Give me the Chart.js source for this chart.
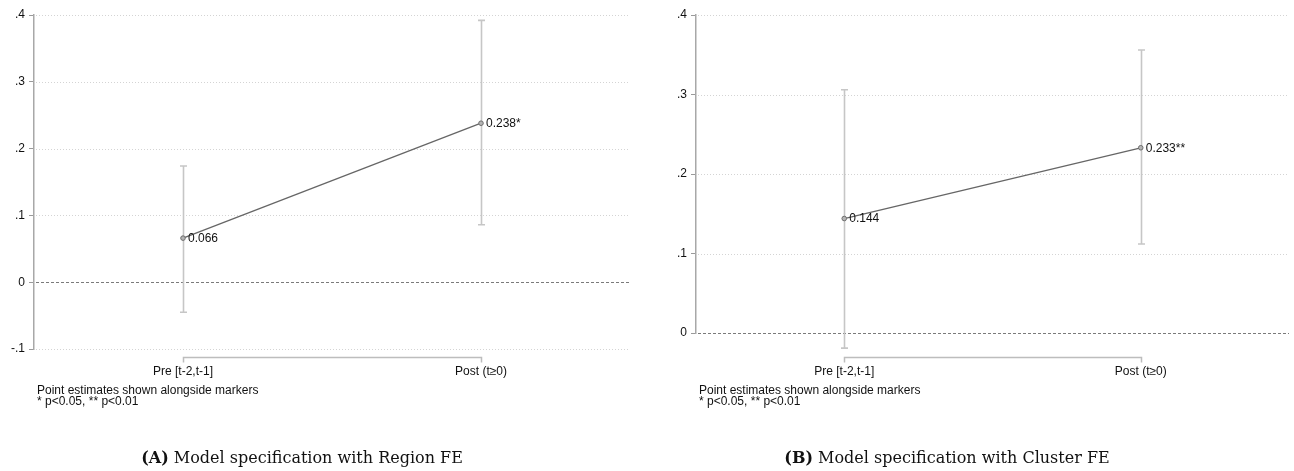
<!DOCTYPE html>
<html>
<head>
<meta charset="utf-8">
<script src="https://cdn.jsdelivr.net/npm/chart.js@4.4.1/dist/chart.umd.min.js"></script>
<style>
  html, body { margin: 0; padding: 0; background: #fff; }
  body { width: 1294px; height: 471px; position: relative; overflow: hidden; }
  .panel { position: absolute; top: 0; height: 471px; }
  .caption { position: absolute; top: 449px; line-height: 18px; font-family: "DejaVu Serif", serif; font-size: 16px; color: #111; white-space: nowrap; transform: translateX(-50%); }
</style>
</head>
<body>
<div class="panel" style="left:0;width:640px;"><canvas id="chartA"></canvas></div>
<div class="panel" style="left:662px;width:632px;"><canvas id="chartB"></canvas></div>
<div class="caption" style="left:302px;"><b>(A)</b> Model specification with Region FE</div>
<div class="caption" style="left:947px;"><b>(B)</b> Model specification with Cluster FE</div>
<script>
// Periods on the horizontal axis
const periods = ["Pre [t-2,t-1]", "Post (t\u22650)"];

// Panel A: Region FE
const estA = [0.066, 0.238];
const lowA = [-0.045, 0.086];
const highA = [0.174, 0.392];
const starsA = ["", "*"];
const yTicksA = [-0.1, 0, 0.1, 0.2, 0.3, 0.4];

// Panel B: Cluster FE
const estB = [0.144, 0.233];
const lowB = [-0.019, 0.112];
const highB = [0.306, 0.356];
const starsB = ["", "**"];
const yTicksB = [0, 0.1, 0.2, 0.3, 0.4];

const notes = ["Point estimates shown alongside markers", "* p<0.05, ** p<0.01"];

const SANS = '"Liberation Sans", Arial, sans-serif';

function fmtTick(v) {
  if (Math.abs(v) < 1e-9) return "0";
  const s = v.toFixed(1);
  return s.replace(/^(-?)0\./, "$1.");
}

// Draws gridlines, zero line, confidence intervals, value labels,
// the bracket-style category axis and the footnote.
const coefPlot = {
  id: "coefPlot",
  beforeDatasetsDraw(chart) {
    const o = chart.options.plugins.coefPlot;
    const { ctx, chartArea: a, scales: { x, y } } = chart;
    ctx.save();
    // dotted gridlines
    ctx.lineWidth = 1;
    o.ticks.forEach(t => {
      if (Math.abs(t) < 1e-9) return;
      const py = Math.round(y.getPixelForValue(t)) + 0.5;
      ctx.strokeStyle = "#d4d4d4";
      ctx.setLineDash([1, 2]);
      ctx.beginPath(); ctx.moveTo(a.left + 2, py); ctx.lineTo(a.right, py); ctx.stroke();
    });
    // dashed zero line
    const zy = Math.round(y.getPixelForValue(0)) + 0.5;
    ctx.strokeStyle = "#7a7a7a";
    ctx.setLineDash([3, 2]);
    ctx.beginPath(); ctx.moveTo(a.left + 2, zy); ctx.lineTo(a.right, zy); ctx.stroke();
    ctx.setLineDash([]);
    // confidence intervals
    ctx.strokeStyle = "#c6c6c6";
    ctx.lineWidth = 1.6;
    o.low.forEach((lo, i) => {
      const px = Math.round(x.getPixelForValue(i)) + 0.5;
      const y1 = y.getPixelForValue(lo), y2 = y.getPixelForValue(o.high[i]);
      ctx.beginPath();
      ctx.moveTo(px, y1); ctx.lineTo(px, y2);
      ctx.moveTo(px - 3.5, y1); ctx.lineTo(px + 3.5, y1);
      ctx.moveTo(px - 3.5, y2); ctx.lineTo(px + 3.5, y2);
      ctx.stroke();
    });
    ctx.restore();
  },
  afterDatasetsDraw(chart) {
    const o = chart.options.plugins.coefPlot;
    const { ctx, scales: { x, y } } = chart;
    const ds = chart.data.datasets[0].data;
    ctx.save();
    // value labels
    ctx.fillStyle = "#111";
    ctx.font = "12px " + SANS;
    ctx.textBaseline = "middle";
    ctx.textAlign = "left";
    ds.forEach((p, i) => {
      const px = x.getPixelForValue(p.x), py = y.getPixelForValue(p.y);
      ctx.fillText(p.y.toFixed(3) + o.stars[i], px + 5, py + 0.5);
    });
    // category axis drawn as a bracket between the two periods
    const x0 = Math.round(x.getPixelForValue(0)) + 0.5;
    const x1 = Math.round(x.getPixelForValue(1)) + 0.5;
    const ay = o.axisY + 0.5;
    ctx.strokeStyle = "#bdbdbd";
    ctx.lineWidth = 1.5;
    ctx.beginPath();
    ctx.moveTo(x0, ay + 5); ctx.lineTo(x0, ay); ctx.lineTo(x1, ay); ctx.lineTo(x1, ay + 5);
    ctx.stroke();
    ctx.textAlign = "center";
    periods.forEach((lab, i) => {
      ctx.fillText(lab, x.getPixelForValue(i), o.axisY + 15);
    });
    // footnote
    ctx.textAlign = "left";
    ctx.font = "12px " + SANS;
    notes.forEach((n, i) => ctx.fillText(n, chart.chartArea.left + 3, o.axisY + 34 + i * 11));
    ctx.restore();
  }
};

function makeChart(id, est, low, high, stars, yTicks, yMin, bottomPad) {
  return new Chart(document.getElementById(id), {
    type: "line",
    data: {
      datasets: [{
        data: est.map((v, i) => ({ x: i, y: v })),
        borderColor: "#666",
        borderWidth: 1.3,
        pointRadius: 2.3,
        pointBorderWidth: 1,
        pointBorderColor: "#6e6e6e",
        pointBackgroundColor: "#b5b5b5",
        tension: 0,
        clip: false
      }]
    },
    options: {
      responsive: true,
      maintainAspectRatio: false,
      animation: false,
      events: [],
      layout: { padding: { top: 15, bottom: bottomPad, left: 0, right: id === "chartA" ? 10 : 1 } },
      plugins: {
        legend: { display: false },
        tooltip: { enabled: false },
        coefPlot: { low, high, stars, ticks: yTicks, axisY: 357 }
      },
      scales: {
        x: { type: "linear", min: -0.5, max: 1.5, display: false },
        y: {
          type: "linear",
          min: yMin,
          max: 0.4,
          afterBuildTicks(scale) { scale.ticks = yTicks.map(v => ({ value: v })); },
          afterFit(scale) { scale.width = 34; },
          ticks: {
            color: "#111",
            padding: 4,
            font: { family: SANS, size: 12 },
            callback: v => fmtTick(v)
          },
          grid: { drawOnChartArea: false, drawTicks: true, tickLength: 5, color: "#9a9a9a", lineWidth: 1 },
          border: { display: true, color: "#a8a8a8", width: 1.5 }
        }
      }
    },
    plugins: [coefPlot]
  });
}

makeChart("chartA", estA, lowA, highA, starsA, yTicksA, -0.1, 471 - 349);
makeChart("chartB", estB, lowB, highB, starsB, yTicksB, 0, 471 - 333);
</script>
</body>
</html>
